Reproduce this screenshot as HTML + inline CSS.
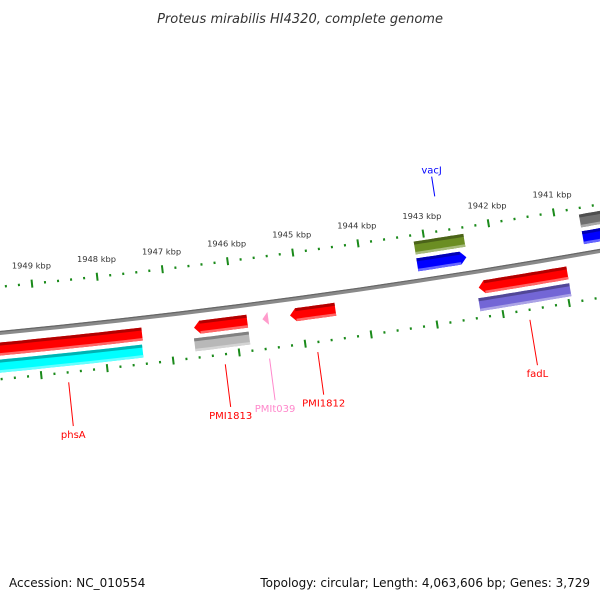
<!DOCTYPE html>
<html><head><meta charset="utf-8"><style>
body{margin:0;background:#fff}
svg{display:block;font-family:"DejaVu Sans","Liberation Sans",sans-serif}
</style></head><body>
<svg id="c" width="600" height="600" viewBox="0 0 600 600">
<text x="300" y="23" text-anchor="middle" font-size="13" font-style="italic" fill="#333">Proteus mirabilis HI4320, complete genome</text>
<text x="9" y="587" font-size="12" fill="#111">Accession: NC_010554</text>
<text x="590" y="587" text-anchor="end" font-size="12" fill="#111">Topology: circular; Length: 4,063,606 bp; Genes: 3,729</text>
<g id="g"></g>
</svg>
<script>
// data
const tickKbp=[1941,1942,1943,1944,1945,1946,1947,1948,1949];
const featStart=[1943.16,1943.16,1940.63,1940.63,1949.9,1949.9,1946.63,1946.65,1945.59,1945.17,1942.30,1942.33];
const featEnd=[1942.40,1942.41,1940.2,1940.2,1947.42,1947.44,1945.82,1945.82,1945.50,1944.48,1940.95,1940.95];
const featTrack=[2,1,2,1,-1,-2,-1,-2,-1,-1,-1,-2];
const featArrow=[0,1,0,0,0,0,-1,0,-1,-1,-1,0];
const featColor=["#6b8e23","#0000ff","#707070","#0000ff","#ff0000","#00ffff","#ff0000","#b8b8b8","#ff9ccc","#ff0000","#ff0000","#7366d6"];
const labelText=["vacJ","phsA","PMI1813","PMIt039","PMI1812","fadL"];
const labelKbp=[1942.74,1948.6,1946.23,1945.56,1944.83,1941.62];
const labelColor=["#0000ff","#ff0000","#ff0000","#ff88cc","#ff0000","#ff0000"];
const labelSide=[1,-1,-1,-1,-1,-1];
const labelLen=[20,44,43,42,43,46];

const NS="http://www.w3.org/2000/svg";
const G=document.getElementById('g');
const A=0.0967,B=6.67e-5,PX=65.6;
function pt(k,off){const x=299-(k-1945)*PX;const y=333-A*x-B*x*x;const s=-A-2*B*x;const n=Math.sqrt(1+s*s);
 return [x+off*s/n,y-off/n];}
function mk(t,a){const e=document.createElementNS(NS,t);for(const x in a)e.setAttribute(x,a[x]);G.appendChild(e);return e;}
function arcPts(k1,k2,r){const o=[];for(let i=0;i<=12;i++){o.push(pt(k1+(k2-k1)*i/12,r));}return o;}
function ps(a){return a.map(p=>p[0].toFixed(1)+','+p[1].toFixed(1)).join(' ');}
function shade(c,f){let n=parseInt(c.slice(1),16);let r=n>>16,g=(n>>8)&255,b=n&255;
 const m=v=>Math.max(0,Math.min(255,Math.round(f<1?v*f:v+(255-v)*(f-1))));return `rgb(${m(r)},${m(g)},${m(b)})`;}

// backbone
const bb=mk('polyline',{points:ps(arcPts(1950.5,1939.5,0)),fill:'none',stroke:'#8a8a8a',"stroke-width":4});


const bb2=mk('polyline',{points:ps(arcPts(1950.5,1939.5,1.5)),fill:'none',stroke:'#666',"stroke-width":1.2});



// ticks
for(let i=0;i<=60;i++){
 const k=1939+i*0.2;const major=Math.abs(k-Math.round(k))<0.01;
 [46,-46].forEach(off=>{
  const a=pt(k,off-(major?4:1.2)),b=pt(k,off+(major?4:1.2));
  const t=mk('line',{x1:a[0],y1:a[1],x2:b[0],y2:b[1],stroke:'#1a8a1a',"stroke-width":2});
  
  
 });
}
tickKbp.forEach(k=>{const p=pt(k,61);
 const t=mk('text',{x:p[0]+1,y:p[1],"text-anchor":"middle","font-size":8.3,fill:'#333'});
 t.textContent=k+' kbp';
 
 
});

// features
const trackR={1:16,2:33,'-1':-16,'-2':-33};
featStart.forEach((s,i)=>{
 const e=featEnd[i],rc=trackR[featTrack[i]],h=6.5,c=featColor[i];
 const hi=Math.max(s,e),lo=Math.min(s,e);
 let a=hi,b=lo;const head=0.09;
 if(featArrow[i]===-1)a=hi-head; if(featArrow[i]===1)b=lo+head;
 let pts=arcPts(a,b,rc+h);
 if(featArrow[i]===1)pts.push(pt(lo,rc));
 pts=pts.concat(arcPts(b,a,rc-h));
 if(featArrow[i]===-1)pts.push(pt(hi,rc));
 const f=mk('polygon',{points:ps(pts),fill:c});
 
 
 const st=mk('polygon',{points:ps(arcPts(a,b,rc+h).concat(arcPts(b,a,rc+h-3))),fill:shade(c,0.7)});
 
 
 const lt=mk('polygon',{points:ps(arcPts(a,b,rc-h+2.5).concat(arcPts(b,a,rc-h))),fill:shade(c,1.4)});
 
 
});

// labels
labelText.forEach((t,i)=>{
 const k=labelKbp[i],s=labelSide[i];
 const r0=s>0?81:-56,r1=r0+s*labelLen[i];
 const a=pt(k,r0),b=pt(k,r1);
 const l=mk('line',{x1:a[0],y1:a[1],x2:b[0],y2:b[1],stroke:labelColor[i],"stroke-width":1});
 
 
 const tx=mk('text',{x:b[0],y:b[1]+(s>0?-3:12),"text-anchor":"middle","font-size":10,fill:labelColor[i]});
 tx.textContent=t;
 
 
});
</script>
</body></html>
